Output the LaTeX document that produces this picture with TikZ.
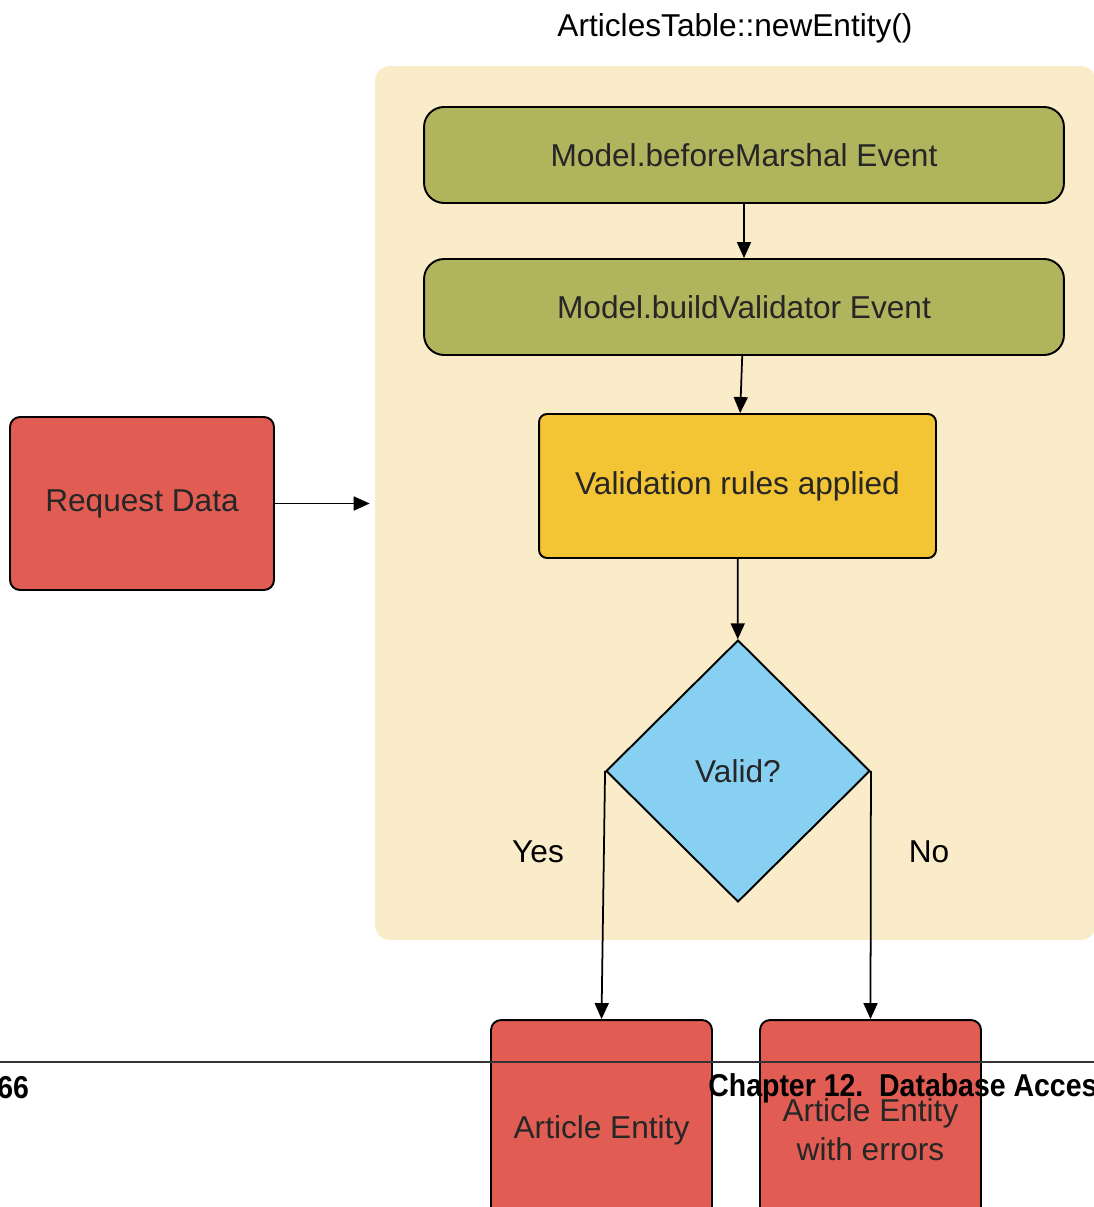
\documentclass[tikz,border=0pt]{standalone}
\usepackage{fontspec}
\setmainfont{Liberation Sans}
\usetikzlibrary{arrows.meta, positioning, shapes.geometric}

\definecolor{panelbeige}{HTML}{FAEBC9}
\definecolor{eventgreen}{HTML}{B0B45C}
\definecolor{ruleyellow}{HTML}{F3C433}
\definecolor{decisionblue}{HTML}{88D0F1}
\definecolor{datared}{HTML}{E15D53}

\begin{document}
\begin{tikzpicture}[x=0.02cm, y=-0.02cm,
    font=\fontsize{18}{22}\selectfont,
    >={Triangle[length=0.32cm, width=0.28cm]},
    flow/.style={draw=black, line width=1.1pt, text=black!85, align=center, inner sep=0pt},
    eventbox/.style={flow, rounded corners=0.4cm, fill=eventgreen, minimum width=12.8cm, minimum height=1.92cm},
    rulebox/.style={flow, rounded corners=0.16cm, fill=ruleyellow, minimum width=7.94cm, minimum height=2.88cm},
    databox/.style={flow, rounded corners=0.2cm, fill=datared},
    decision/.style={flow, diamond, fill=decisionblue, minimum width=5.28cm, minimum height=5.24cm},
    link/.style={->, line width=1pt},
    footer/.style={anchor=west, inner sep=0pt, font=\fontsize{18}{22}\selectfont\bfseries}]
    \useasboundingbox (0,0) rectangle (1094,1207);
    \clip (0,0) rectangle (1094,1207);

    % the newEntity() panel
    \node[fill=panelbeige, rounded corners=0.3cm, minimum width=14.42cm, minimum height=17.48cm, inner sep=0pt] (newentity) at (735.5,503) {};
    \node (title) at (735,28) {ArticlesTable::newEntity()};

    \node[eventbox] (marshal) at (744,155) {Model.beforeMarshal Event};
    \node[eventbox] (validator) at (744,307) {Model.buildValidator Event};
    \node[rulebox] (rules) at (737.5,486) {Validation rules applied};
    \node[decision] (valid) at (738,771) {Valid?};

    \node[databox, minimum width=5.28cm, minimum height=3.46cm] (request) at (142,503.5) {Request Data};
    \node[databox, minimum width=4.42cm, minimum height=4.4cm] (entity) at (601.5,1130) {Article Entity};
    \node[databox, minimum width=4.42cm, minimum height=4.4cm] (errors) at (870.5,1130) {Article Entity\\with errors};

    \node (yes) at (538,852) {Yes};
    \node (no) at (929,852) {No};

    \draw[link, shorten >=0.1cm] (request) -- (request -| newentity.west);
    \draw[link] (marshal) -- (validator);
    \draw[link] (validator) -- (rules);
    \draw[link] (rules) -- (valid);
    \draw[link] (valid.west) -- (entity.north);
    \draw[link] (valid.east) -- (errors.north);

    % page footer printed over the figure
    \draw[line width=0.6pt, black!80] (0,1062) -- (1094,1062);
    \node[footer] (page) at (-3,1088) {\scalebox{0.9}[1]{66}};
    \node[footer] (chapter) at (708,1088) {\scalebox{0.9}[1]{Chapter 12.\ \ Database Access}};
\end{tikzpicture}
\end{document}
